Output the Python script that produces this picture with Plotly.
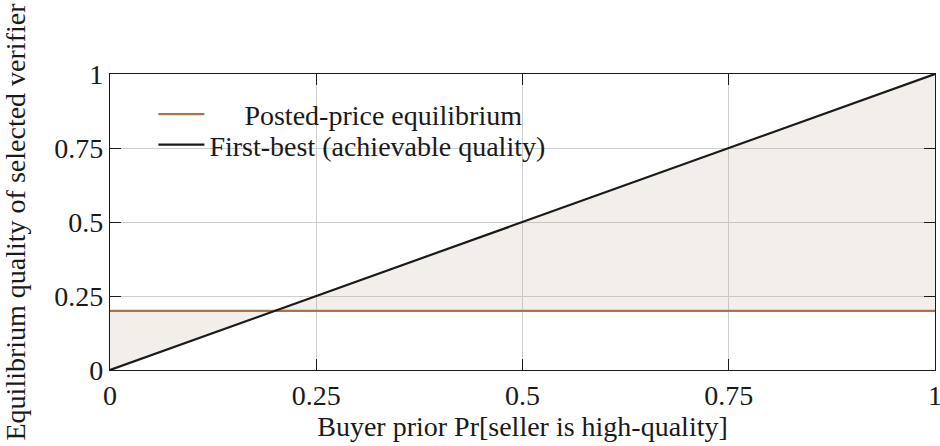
import plotly.graph_objects as go

# Data
prior = [0, 0.25, 0.5, 0.75, 1]
posted_price = [0.2, 0.2, 0.2, 0.2, 0.2]
first_best = [0, 0.25, 0.5, 0.75, 1]
tick_vals = [0, 0.25, 0.5, 0.75, 1]
tick_text = ["0", "0.25", "0.5", "0.75", "1"]

FONT = "Liberation Serif"
FS = 28
BROWN = "#a8744f"
BLACK = "#1a1a1a"
NB = "\u00a0"

fig = go.Figure()

# shaded gap between the two curves
fig.add_trace(go.Scatter(x=prior, y=posted_price, mode="lines",
                         line=dict(width=0), showlegend=False, hoverinfo="skip"))
fig.add_trace(go.Scatter(x=prior, y=first_best, mode="lines",
                         line=dict(width=0), fill="tonexty",
                         fillcolor="rgba(180,160,130,0.17)",
                         showlegend=False, hoverinfo="skip"))

fig.add_trace(go.Scatter(x=prior, y=posted_price, mode="lines",
                         name=NB * 5 + "Posted-price equilibrium",
                         line=dict(color=BROWN, width=2.2),
                         legend="legend"))
fig.add_trace(go.Scatter(x=prior, y=first_best, mode="lines",
                         name="First-best (achievable quality)",
                         line=dict(color=BLACK, width=2.2),
                         legend="legend2"))

axis_common = dict(
    range=[0, 1], tickvals=tick_vals, ticktext=tick_text,
    ticks="inside", ticklen=11, tickwidth=1.3, tickcolor=BLACK,
    showline=True, linecolor=BLACK, linewidth=1.3, mirror="allticks",
    showgrid=True, gridcolor="#cfcfcf", gridwidth=1, zeroline=False,
    automargin=False, ticklabeloverflow="allow",
    tickfont=dict(family=FONT, size=FS, color=BLACK),
)

fig.update_xaxes(**axis_common,
                 title=dict(text="Buyer prior Pr[seller is high-quality]",
                            font=dict(family=FONT, size=FS, color=BLACK),
                            standoff=6))
fig.update_yaxes(**axis_common,
                 title=dict(text="Equilibrium quality of selected verifier",
                            font=dict(family=FONT, size=FS, color=BLACK),
                            standoff=20))

legend_common = dict(xanchor="left", yanchor="top",
                     bgcolor="rgba(0,0,0,0)", borderwidth=0,
                     itemwidth=46,
                     font=dict(family=FONT, size=FS, color=BLACK))

fig.update_layout(
    width=940, height=446,
    margin=dict(l=110, r=5, t=74, b=76),
    paper_bgcolor="white", plot_bgcolor="white",
    font=dict(family=FONT, size=FS, color=BLACK),
    legend=dict(x=0.0526, y=0.948, **legend_common),
    legend2=dict(x=0.0526, y=0.845, **legend_common),
    showlegend=True,
)

fig.write_html("out.html",
               config={"displayModeBar": False},
               post_script="document.body.style.margin='0px';")
